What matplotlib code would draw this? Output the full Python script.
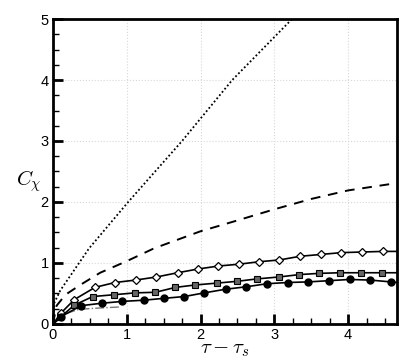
import matplotlib
matplotlib.use("Agg")
import matplotlib.pyplot as plt
from matplotlib.ticker import MultipleLocator

plt.rcParams['font.family'] = ['Liberation Sans', 'DejaVu Sans']
plt.rcParams['mathtext.fontset'] = 'cm'

# Data
dotted_x = [0.0, 0.02, 0.10, 0.49, 1.02, 1.75, 2.43, 3.24, 3.50]
dotted_y = [0.0, 0.35, 0.55, 1.24, 2.00, 3.00, 4.00, 5.00, 5.35]

dashed_x = [0.0, 0.05, 0.17, 0.37, 0.64, 1.00, 1.37, 2.00, 2.45, 3.00, 3.50, 4.00, 4.66]
dashed_y = [0.0, 0.30, 0.48, 0.64, 0.84, 1.03, 1.24, 1.52, 1.68, 1.88, 2.05, 2.19, 2.31]

diam_x = [0.0, 0.11, 0.29, 0.57, 0.84, 1.12, 1.40, 1.69, 1.96, 2.24, 2.52, 2.79,
          3.07, 3.35, 3.63, 3.91, 4.19, 4.47, 4.66]
diam_y = [0.0, 0.18, 0.40, 0.60, 0.68, 0.72, 0.77, 0.84, 0.90, 0.95, 0.98, 1.02,
          1.05, 1.11, 1.14, 1.17, 1.18, 1.19, 1.19]

sq_x = [0.0, 0.10, 0.29, 0.54, 0.83, 1.11, 1.39, 1.66, 1.93, 2.22, 2.50, 2.77,
        3.06, 3.34, 3.61, 3.89, 4.17, 4.46, 4.66]
sq_y = [0.0, 0.11, 0.31, 0.45, 0.48, 0.51, 0.52, 0.60, 0.64, 0.67, 0.70, 0.74,
        0.77, 0.81, 0.83, 0.84, 0.84, 0.84, 0.84]

circ_x = [0.0, 0.11, 0.38, 0.66, 0.94, 1.23, 1.50, 1.78, 2.05, 2.34, 2.62, 2.90,
          3.18, 3.46, 3.74, 4.02, 4.30, 4.58, 4.66]
circ_y = [0.0, 0.12, 0.30, 0.34, 0.37, 0.39, 0.42, 0.45, 0.51, 0.57, 0.61, 0.66,
          0.68, 0.69, 0.71, 0.73, 0.72, 0.69, 0.68]

dd_x = [0.03, 0.10, 0.20, 0.35, 0.60, 0.92]
dd_y = [0.02, 0.10, 0.18, 0.24, 0.26, 0.28]

fig = plt.figure(figsize=(4.07, 3.62), dpi=100)
ax = fig.add_axes([0.130, 0.105, 0.845, 0.8425])

ax.plot(dotted_x, dotted_y, color='black', linestyle=(0, (1, 1.3)), lw=1.3)
ax.plot(dashed_x, dashed_y, color='black', linestyle=(0, (5, 4)), lw=1.4)
ax.plot(dd_x, dd_y, color='#777777', linestyle='-.', lw=1.0)
ax.plot(diam_x, diam_y, color='black', lw=1.2, marker='D', ms=4.5,
        mfc='white', mec='black', mew=0.9, markevery=list(range(1, 18)))
ax.plot(sq_x, sq_y, color='black', lw=1.2, marker='s', ms=4.5,
        mfc='#666666', mec='black', mew=0.8, markevery=list(range(1, 18)))
ax.plot(circ_x, circ_y, color='black', lw=1.2, marker='o', ms=5,
        mfc='black', mec='black', markevery=list(range(1, 18)))

ax.set_xlim(0, 4.66)
ax.set_ylim(0, 5)
ax.xaxis.set_major_locator(MultipleLocator(1))
ax.xaxis.set_minor_locator(MultipleLocator(0.25))
ax.yaxis.set_major_locator(MultipleLocator(1))
ax.yaxis.set_minor_locator(MultipleLocator(0.25))
ax.tick_params(which='major', direction='in', length=7, width=2, labelsize=10.5, pad=3)
ax.tick_params(which='minor', direction='in', length=4, width=1)
ax.tick_params(top=False, right=False)
ax.grid(True, which='major', color='#d8d8d8', linestyle=':', lw=0.8)
for s in ax.spines.values():
    s.set_linewidth(2)

ax.set_xlabel(r'$\tau - \tau_s$', fontsize=15)
ax.xaxis.set_label_coords(0.5, -0.085)
ax.xaxis.label.set_va('center')
ax.set_ylabel(r'$C_\chi$', fontsize=15, rotation=0, ha='center', va='center')
ax.yaxis.set_label_coords(-0.07, 0.47)

fig.savefig('out.png', dpi=100)
